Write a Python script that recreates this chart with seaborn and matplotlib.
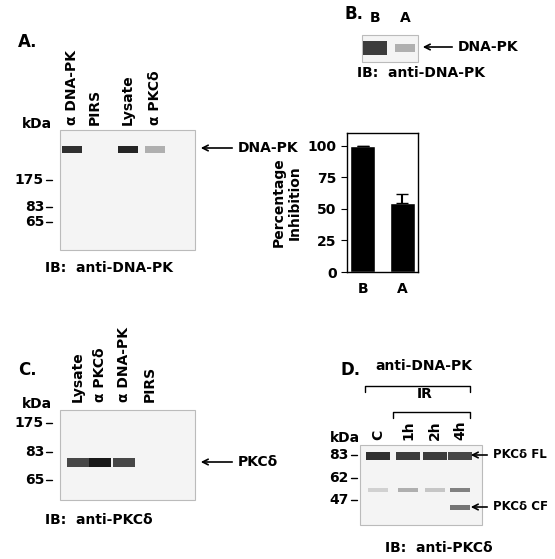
import matplotlib
matplotlib.use("Agg")
import matplotlib.pyplot as plt
import seaborn as sns
import pandas as pd
from matplotlib.patches import Rectangle

sns.set_style("white")
plt.rcParams['font.family'] = ['DejaVu Sans']
plt.rcParams['text.color'] = 'black'
plt.rcParams['axes.labelcolor'] = 'black'
plt.rcParams['xtick.color'] = 'black'
plt.rcParams['ytick.color'] = 'black'

# ---- data ----
bar_groups = ["B", "A"]
bar_values = [100, 55]
bar_errors = [0, 7]
bar_ticks = [0, 25, 50, 75, 100]

a_lanes = ["α DNA-PK", "PIRS", "Lysate", "α PKCδ"]
a_band = [0.9, 0.0, 0.95, 0.35]
a_kda = ["175", "83", "65"]

c_lanes = ["Lysate", "α PKCδ", "α DNA-PK", "PIRS"]
c_band = [0.8, 1.0, 0.8, 0.0]
c_kda = ["175", "83", "65"]

d_lanes = ["C", "1h", "2h", "4h"]
d_fl = [0.9, 0.85, 0.85, 0.8]
d_cf = [0.0, 0.0, 0.0, 0.6]
d_mid = [0.2, 0.35, 0.25, 0.55]
d_kda = ["83", "62", "47"]

W, H = 555, 559
fig = plt.figure(figsize=(W/100, H/100), dpi=100)
ov = fig.add_axes([0, 0, 1, 1])
ov.set_xlim(0, W); ov.set_ylim(H, 0); ov.axis("off")

def band(x, y, inten, w=20, h=7):
    if inten > 0:
        ov.add_patch(Rectangle((x - w/2, y - h/2), w, h, color=str(1 - inten*0.9), lw=0))

def blot(x0, y0, x1, y1):
    ov.add_patch(Rectangle((x0, y0), x1-x0, y1-y0, fill=True, fc="#f4f4f4", ec="#bbbbbb", lw=0.8))

def ticks(x, ys, labels):
    for y, l in zip(ys, labels):
        ov.text(x - 8, y, l, ha="right", va="center", fontsize=10, fontweight="bold")
        ov.plot([x - 6, x], [y, y], color="k", lw=1)

def arrow(x0, x1, y, label, fs=10):
    ov.annotate("", xy=(x0, y), xytext=(x1, y), arrowprops=dict(arrowstyle="->", lw=1.2, color="k"))
    ov.text(x1 + 3, y, label, ha="left", va="center", fontsize=fs, fontweight="bold")

bold = dict(fontsize=10, fontweight="bold")

# Panel A
ov.text(18, 42, "A.", fontsize=12, fontweight="bold", va="center")
blot(60, 130, 195, 250)
for x, l, b in zip([72, 95, 128, 155], a_lanes, a_band):
    ov.text(x, 125, l, rotation=90, ha="center", va="bottom", **bold)
    band(x, 149, b)
ticks(52, [180, 207, 222], a_kda)
ov.text(22, 128, "kDa", **bold)
arrow(198, 235, 148, "DNA-PK")
ov.text(45, 268, "IB:  anti-DNA-PK", va="center", **bold)

# Panel B
ov.text(345, 14, "B.", fontsize=12, fontweight="bold", va="center")
ov.text(375, 18, "B", ha="center", va="center", **bold)
ov.text(405, 18, "A", ha="center", va="center", **bold)
blot(362, 35, 418, 62)
band(375, 48, 0.85, w=24, h=14)
band(405, 48, 0.35, w=20, h=8)
arrow(420, 455, 47, "DNA-PK")
ov.text(357, 73, "IB:  anti-DNA-PK", va="center", **bold)

axb = fig.add_axes([347/W, 1 - 272/H, 71/W, 139/H])
df = pd.DataFrame({"g": bar_groups, "v": bar_values})
sns.barplot(data=df, x="g", y="v", color="black", width=0.62, ax=axb, errorbar=None)
axb.errorbar([0, 1], bar_values, yerr=[[0, 0], bar_errors], fmt="none", ecolor="k", capsize=4, lw=1.5)
axb.set_ylim(0, 110); axb.set_yticks(bar_ticks)
axb.set_xlabel(""); axb.set_ylabel("Percentage\nInhibition", fontsize=10, fontweight="bold")
for lab in axb.get_xticklabels() + axb.get_yticklabels():
    lab.set_fontweight("bold"); lab.set_fontsize(10)
for s in axb.spines.values():
    s.set_color("k"); s.set_linewidth(1)
axb.tick_params(left=True, length=4)

# Panel C
ov.text(18, 370, "C.", fontsize=12, fontweight="bold", va="center")
blot(60, 410, 195, 500)
for x, l, b in zip([78, 100, 124, 150], c_lanes, c_band):
    ov.text(x, 402, l, rotation=90, ha="center", va="bottom", **bold)
    band(x, 462, b, w=22, h=9)
ticks(52, [423, 452, 480], c_kda)
ov.text(22, 408, "kDa", **bold)
arrow(198, 235, 462, "PKCδ")
ov.text(45, 520, "IB:  anti-PKCδ", va="center", **bold)

# Panel D
ov.text(340, 370, "D.", fontsize=12, fontweight="bold", va="center")
ov.text(375, 370, "anti-DNA-PK", **bold)
ov.plot([365, 365, 470, 470], [392, 386, 386, 392], color="k", lw=1)
ov.text(425, 398, "IR", ha="center", **bold)
ov.plot([393, 393, 470, 470], [418, 412, 412, 418], color="k", lw=1)
blot(360, 445, 482, 525)
for x, l, f, c, m in zip([378, 408, 435, 460], d_lanes, d_fl, d_cf, d_mid):
    ov.text(x, 440, l, rotation=90, ha="center", va="bottom", **bold)
    band(x, 456, f, w=24, h=8)
    band(x, 490, m, w=20, h=4)
    band(x, 507, c, w=20, h=5)
ticks(357, [455, 478, 500], d_kda)
ov.text(330, 442, "kDa", **bold)
arrow(468, 490, 455, "PKCδ FL", fs=8.5)
arrow(468, 490, 507, "PKCδ CF", fs=8.5)
ov.text(385, 548, "IB:  anti-PKCδ", va="center", **bold)

fig.savefig("out.png", dpi=100)
